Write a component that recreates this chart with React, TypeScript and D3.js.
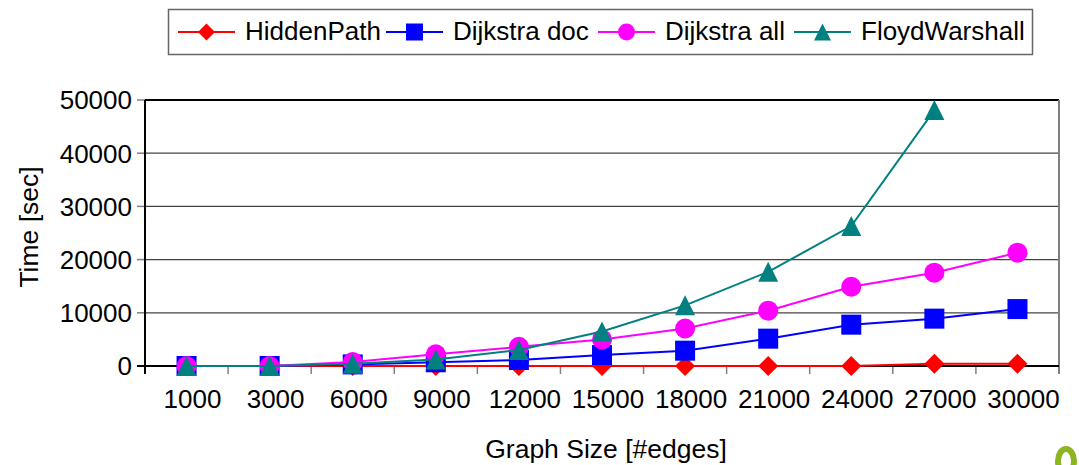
import React from "react";
import * as d3 from "d3";

const categories = ["1000", "3000", "6000", "9000", "12000", "15000", "18000", "21000", "24000", "27000", "30000"];
const hiddenPath = [0, 0, 0, 0, 0, 0, 0, 0, 0, 400, 420];
const dijkstraDoc = [0, 0, 300, 700, 1130, 2050, 2880, 5140, 7770, 8900, 10700];
const dijkstraAll = [0, 0, 750, 2200, 3600, 5000, 7050, 10400, 14900, 17540, 21300];
const floydWarshall: (number | null)[] = [0, 0, 400, 1200, 3000, 6500, 11400, 17700, 26300, 48100, null];
const yTicks = [0, 10000, 20000, 30000, 40000, 50000];

const seriesNames = ["HiddenPath", "Dijkstra doc", "Dijkstra all", "FloydWarshall"];
const seriesColors = ["#ff0000", "#0000ff", "#ff00ff", "#008080"];
const seriesShapes = ["diamond", "square", "circle", "triangle"];
const seriesValues = [hiddenPath, dijkstraDoc, dijkstraAll, floydWarshall];

const W = 1079;
const H = 465;
const M = { left: 145, right: 1059, top: 100, bottom: 366 };
const FONT = "'Liberation Sans', Arial, sans-serif";

function Marker({ shape, x, y, size, color }: { shape: string; x: number; y: number; size: number; color: string }) {
  const h = size / 2;
  if (shape === "diamond") {
    return <path d={`M${x},${y - h}L${x + h},${y}L${x},${y + h}L${x - h},${y}Z`} fill={color} />;
  }
  if (shape === "square") {
    return <rect x={x - h} y={y - h} width={size} height={size} fill={color} />;
  }
  if (shape === "circle") {
    return <circle cx={x} cy={y} r={h} fill={color} />;
  }
  return <path d={`M${x},${y - h}L${x + h},${y + h}L${x - h},${y + h}Z`} fill={color} />;
}

export default function App() {
  const x = d3.scaleBand<string>().domain(categories).range([M.left, M.right]).padding(0);
  const y = d3.scaleLinear().domain([0, 50000]).range([M.bottom, M.top]);
  const cx = (c: string) => (x(c) as number) + x.bandwidth() / 2;

  const line = d3
    .line<number | null>()
    .defined((d) => d !== null)
    .x((_, i) => cx(categories[i]))
    .y((d) => y(d as number));

  const boundaries = categories.map((c) => x(c) as number).concat([M.right]);

  const legendX = [178, 386, 598, 794];

  return (
    <svg width={W} height={H} style={{ position: "absolute", left: 0, top: 0, background: "#fff" }} fontFamily={FONT}>
      <rect x={0} y={0} width={W} height={H} fill="#fff" />
      {/* gridlines */}
      {yTicks.map((t) => (
        <line key={t} x1={M.left} x2={M.right} y1={y(t)} y2={y(t)} stroke={t === 50000 ? "#000" : "#444"} strokeWidth={t === 50000 ? 2 : 1.3} />
      ))}
      {/* right border */}
      <line x1={M.right} x2={M.right} y1={M.top} y2={M.bottom + 8} stroke="#808080" strokeWidth={2} />
      {/* y ticks */}
      {yTicks.map((t) => (
        <g key={"yt" + t}>
          <line x1={M.left - 8} x2={M.left} y1={y(t)} y2={y(t)} stroke="#808080" strokeWidth={1.5} />
          <text x={132} y={y(t)} dy="0.36em" textAnchor="end" fontSize={26} fill="#000">
            {t}
          </text>
        </g>
      ))}
      {/* x ticks */}
      {boundaries.map((b, i) => (
        <line key={"xt" + i} x1={b} x2={b} y1={M.bottom} y2={M.bottom + 8} stroke="#808080" strokeWidth={1.5} />
      ))}
      {categories.map((c) => (
        <text key={"xl" + c} x={cx(c) + 6} y={408} textAnchor="middle" fontSize={26} fill="#000">
          {c}
        </text>
      ))}
      {/* axes */}
      <line x1={M.left} x2={M.left} y1={M.top} y2={M.bottom + 8} stroke="#000" strokeWidth={2} />
      <line x1={M.left - 8} x2={M.right} y1={M.bottom} y2={M.bottom} stroke="#000" strokeWidth={2} />
      {/* series */}
      {seriesValues.map((vals, si) => (
        <g key={"s" + si}>
          <path d={line(vals as (number | null)[]) || ""} fill="none" stroke={seriesColors[si]} strokeWidth={2} />
          {vals.map((v, i) =>
            v === null ? null : (
              <Marker key={i} shape={seriesShapes[si]} x={cx(categories[i])} y={y(v as number)} size={20} color={seriesColors[si]} />
            )
          )}
        </g>
      ))}
      {/* axis titles */}
      <text transform={`translate(38,227) rotate(-90)`} textAnchor="middle" fontSize={26.5} fill="#000">
        Time [sec]
      </text>
      <text x={606} y={458} textAnchor="middle" fontSize={26.5} fill="#000">
        Graph Size [#edges]
      </text>
      {/* legend */}
      <rect x={168.5} y={9.5} width={864} height={45} fill="#fff" stroke="#666" strokeWidth={1.5} />
      {seriesNames.map((n, i) => (
        <g key={"lg" + n}>
          <line x1={legendX[i]} x2={legendX[i] + 57} y1={32} y2={32} stroke={seriesColors[i]} strokeWidth={2} />
          <Marker shape={seriesShapes[i]} x={legendX[i] + 28.5} y={32} size={17} color={seriesColors[i]} />
          <text x={legendX[i] + 67} y={40} fontSize={26} fill="#000">
            {n}
          </text>
        </g>
      ))}
      {/* partial logo at bottom right */}
      <ellipse cx={1066} cy={461} rx={8} ry={12} fill="none" stroke="#8cb423" strokeWidth={6} />
    </svg>
  );
}
